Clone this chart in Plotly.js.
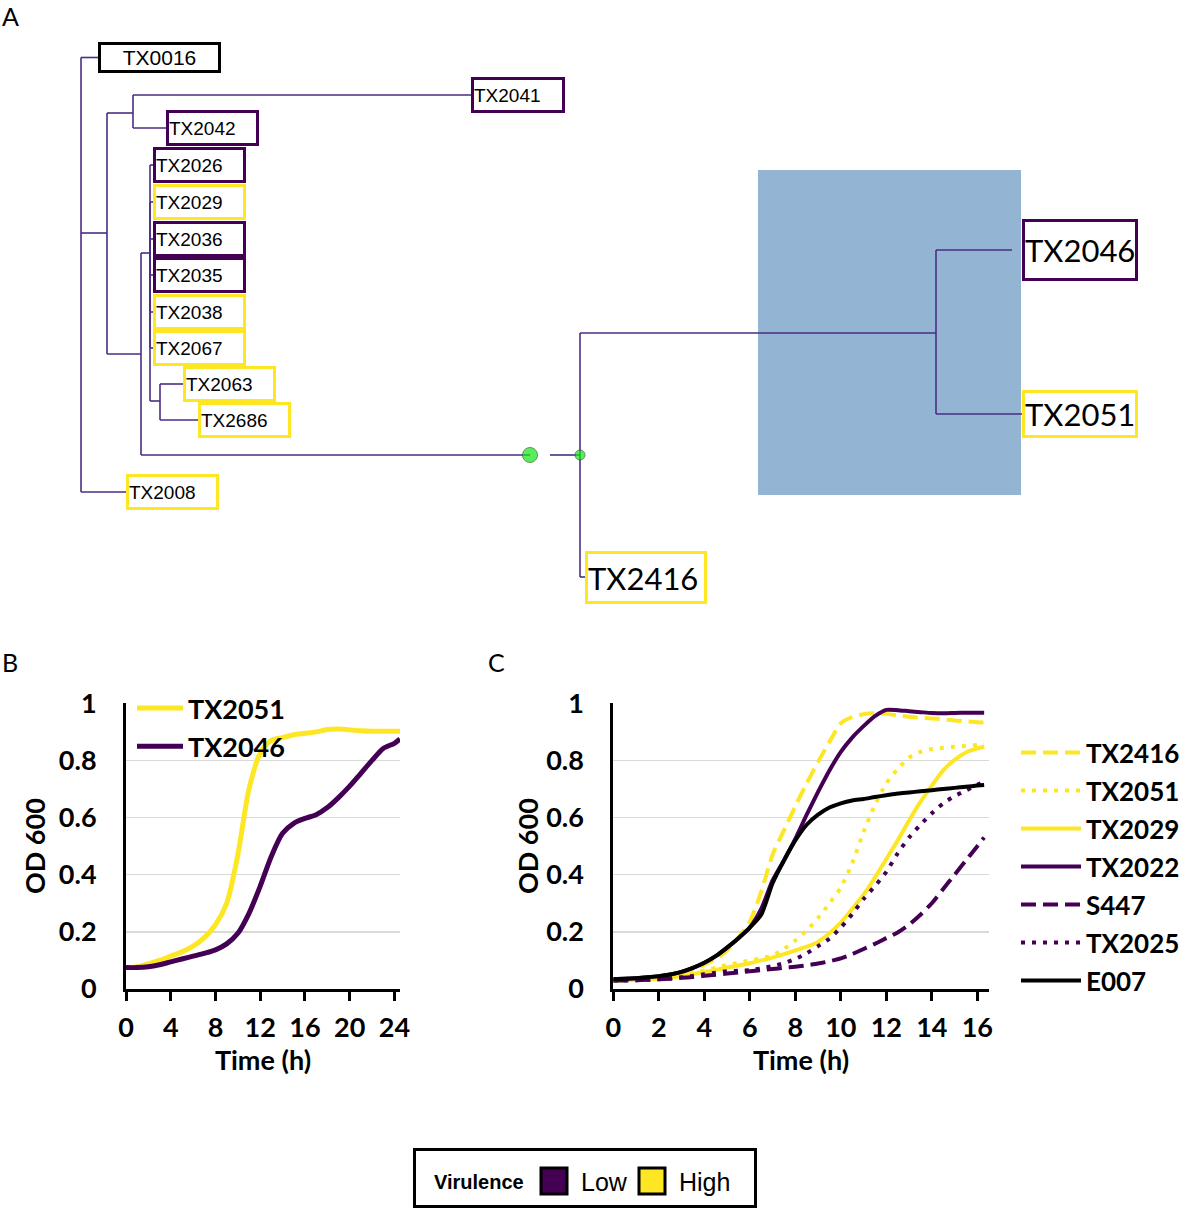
<!DOCTYPE html>
<html><head><meta charset="utf-8">
<script src="https://cdn.plot.ly/plotly-3.0.1.min.js"></script>
<style>html,body{margin:0;padding:0;background:#fff;overflow:hidden}#chart{width:1182px;height:1211px}</style>
</head><body><div id="chart"></div>
<script>
// ---------- Panel B data ----------
const timeB = [0,1,2,3,4,5,6,7,8,9,10,11,12,13,14,15,16,17,18,19,20,21,22,23,24,24.5];
const tx2051B = [0.075,0.078,0.088,0.10,0.115,0.13,0.15,0.18,0.225,0.30,0.47,0.70,0.825,0.87,0.88,0.89,0.895,0.90,0.908,0.91,0.907,0.904,0.902,0.902,0.902,0.902];
const tx2046B = [0.075,0.075,0.078,0.085,0.095,0.105,0.115,0.125,0.137,0.158,0.195,0.265,0.36,0.465,0.545,0.58,0.597,0.61,0.635,0.67,0.71,0.755,0.80,0.842,0.86,0.875];
const namesB = ['TX2051','TX2046'];
const ticksB = [0,4,8,12,16,20,24];

// ---------- Panel C data ----------
const timeC = [0,0.5,1,1.5,2,2.5,3,3.5,4,4.5,5,5.5,6,6.5,7,7.5,8,8.5,9,9.5,10,10.5,11,11.5,12,12.5,13,13.5,14,14.5,15,15.5,16,16.3];
const tx2416C = [0.030,0.031,0.033,0.036,0.040,0.047,0.057,0.070,0.085,0.105,0.135,0.18,0.235,0.34,0.47,0.555,0.64,0.72,0.795,0.865,0.93,0.952,0.962,0.965,0.963,0.958,0.953,0.95,0.947,0.944,0.94,0.937,0.934,0.933];
const tx2051C = [0.030,0.031,0.032,0.034,0.037,0.042,0.048,0.056,0.065,0.074,0.084,0.092,0.10,0.107,0.118,0.14,0.17,0.205,0.248,0.30,0.355,0.44,0.55,0.645,0.72,0.77,0.81,0.83,0.84,0.844,0.848,0.851,0.854,0.855];
const tx2029C = [0.030,0.031,0.032,0.034,0.036,0.04,0.045,0.052,0.06,0.067,0.075,0.082,0.09,0.10,0.11,0.122,0.135,0.148,0.165,0.195,0.232,0.28,0.33,0.39,0.455,0.52,0.59,0.655,0.712,0.765,0.802,0.828,0.842,0.848];
const tx2022C = [0.035,0.036,0.038,0.041,0.045,0.051,0.06,0.074,0.092,0.115,0.145,0.178,0.215,0.28,0.38,0.45,0.525,0.61,0.69,0.765,0.83,0.88,0.92,0.955,0.977,0.976,0.972,0.969,0.966,0.965,0.966,0.967,0.967,0.967];
const s447C   = [0.030,0.030,0.031,0.032,0.034,0.036,0.039,0.042,0.046,0.050,0.054,0.058,0.062,0.066,0.070,0.074,0.078,0.083,0.089,0.097,0.107,0.122,0.14,0.158,0.178,0.198,0.225,0.26,0.30,0.35,0.40,0.45,0.50,0.53];
const tx2025C = [0.030,0.030,0.031,0.032,0.034,0.037,0.041,0.046,0.052,0.057,0.062,0.064,0.066,0.072,0.08,0.09,0.105,0.125,0.15,0.176,0.215,0.262,0.315,0.36,0.41,0.475,0.53,0.575,0.615,0.65,0.675,0.695,0.715,0.725];
const e007C   = [0.035,0.036,0.038,0.041,0.045,0.051,0.06,0.074,0.092,0.115,0.145,0.178,0.215,0.26,0.37,0.45,0.52,0.575,0.61,0.635,0.65,0.66,0.665,0.672,0.678,0.684,0.688,0.692,0.696,0.70,0.704,0.708,0.712,0.714];
const namesC = ['TX2416','TX2051','TX2029','TX2022','S447','TX2025','E007'];
const ticksC = [0,2,4,6,8,10,12,14,16];
const ticksY = [0,0.2,0.4,0.6,0.8,1];

// ---------- Panel A tree data ----------
const nodeIds    = ['R','TX0016','N1','N2','TX2041','TX2042','N3','N4','TX2026','TX2029','TX2036','TX2035','TX2038','TX2067','N5','TX2063','TX2686','N6','N7','N8','TX2046','TX2051','TX2416','TX2008'];
const nodeParent = [null,'R','R','N1','N2','N2','N1','N3','N4','N4','N4','N4','N4','N4','N4','N5','N5','N3','N6','N7','N8','N8','N7','R'];
const nodeX      = [81,98,107,133,471,166,141,150,153,153,153,153,153,153,160,183,198,530,580,936,1012,1022,585,126];
const nodeY      = [233,57.5,233,113,95,128,354,253,165,202,239,275,312,348,401,384,420,455,455,333,250,414,577,492];
const leafVirulence = {TX0016:'Reference',TX2041:'Low',TX2042:'Low',TX2026:'Low',TX2029:'High',TX2036:'Low',TX2035:'Low',TX2038:'High',TX2067:'High',TX2063:'High',TX2686:'High',TX2008:'High',TX2046:'Low',TX2051:'High',TX2416:'High'};
const markedNodes = ['N6','N7'];
const branchBreakStart = {N7:550};
const virulenceKey = ['Low','High'];

// ---------- styles ----------
const COL = {Low:'#440154', High:'#FDE725', Reference:'#000000'};
const treeLine = '#4b2d85';
const axFont = {family:'Lato, "Open Sans", sans-serif', size:27, weight:'bold', color:'#000'};
const boxStyle = {
  def:{w:87,h:30,font:{family:'"Liberation Sans", Arial, sans-serif',size:19,color:'#000'},align:'left'},
  TX0016:{w:117,h:25,font:{family:'"Liberation Sans", Arial, sans-serif',size:21,color:'#000'},align:'center'},
  TX2041:{w:88,h:30},
  TX2046:{w:110,h:56,font:{family:'Lato, sans-serif',size:31,color:'#000'}},
  TX2051:{w:110,h:42,font:{family:'Lato, sans-serif',size:31,color:'#000'}},
  TX2416:{w:116,h:47,font:{family:'Lato, sans-serif',size:31,color:'#000'}}
};
const boxLeft = {TX2046:1022};

// ---------- build traces ----------
const traces = [];
const idx = {}; nodeIds.forEach((id,i)=>idx[id]=i);
const bx=[], by=[];
nodeIds.forEach((id,i)=>{
  const p = nodeParent[i]; if(!p) return;
  const j = idx[p];
  bx.push(nodeX[j], nodeX[j], null); by.push(nodeY[j], nodeY[i], null);
  const sx = branchBreakStart[id] !== undefined ? branchBreakStart[id] : nodeX[j];
  bx.push(sx, nodeX[i], null); by.push(nodeY[i], nodeY[i], null);
});
traces.push({x:bx,y:by,xaxis:'x3',yaxis:'y3',mode:'lines',line:{color:treeLine,width:1.6},showlegend:false,hoverinfo:'skip'});
traces.push({x:markedNodes.map(n=>nodeX[idx[n]]), y:markedNodes.map(n=>nodeY[idx[n]]), xaxis:'x3',yaxis:'y3',mode:'markers',
  marker:{color:'#14e614',size:[15,10],line:{color:'#1d6b1d',width:1}},showlegend:false,hoverinfo:'skip'});

// panel B
const seriesB = [tx2051B, tx2046B];
const colB = [COL.High, COL.Low];
seriesB.forEach((s,k)=>traces.push({x:timeB,y:s,name:namesB[k],mode:'lines',line:{color:colB[k],width:5,shape:'spline',smoothing:0.8},xaxis:'x',yaxis:'y',legend:'legend'}));

// panel C
const seriesC = [tx2416C,tx2051C,tx2029C,tx2022C,s447C,tx2025C,e007C];
const colC = [COL.High,COL.High,COL.High,COL.Low,COL.Low,COL.Low,'#000000'];
const dashC = ['15px,7px','4px,7px','solid','solid','15px,7px','4px,7px','solid'];
seriesC.forEach((s,k)=>traces.push({x:timeC,y:s,name:namesC[k],mode:'lines',line:{color:colC[k],width:4,dash:dashC[k],shape:'spline',smoothing:0.6},xaxis:'x2',yaxis:'y2',legend:'legend2',legendgroup:'c'+k}));

// ---------- annotations / shapes ----------
const ann = [];
const shapes = [];
Object.keys(leafVirulence).forEach(name=>{
  const i = idx[name];
  const st = Object.assign({}, boxStyle.def, boxStyle[name]||{});
  ann.push({xref:'x3',yref:'y3',x:boxLeft[name]!==undefined?boxLeft[name]:nodeX[i],y:nodeY[i],xanchor:'left',yanchor:'middle',
    text:name,showarrow:false,font:st.font,align:st.align,width:st.w,height:st.h,
    bordercolor:COL[leafVirulence[name]],borderwidth:3,borderpad:0,bgcolor:'#fff'});
});
shapes.push({type:'rect',xref:'x3',yref:'y3',x0:758,x1:1021,y0:170,y1:495,fillcolor:'#93b4d3',line:{width:0},layer:'below'});

const letterFont = {family:'Lato, sans-serif',size:25,color:'#000'};
ann.push({xref:'x3',yref:'y3',x:0,y:16,xanchor:'left',yanchor:'middle',text:'A',showarrow:false,font:letterFont});
ann.push({xref:'x3',yref:'y3',x:0,y:662,xanchor:'left',yanchor:'middle',text:'B',showarrow:false,font:letterFont});
ann.push({xref:'x3',yref:'y3',x:486,y:662,xanchor:'left',yanchor:'middle',text:'C',showarrow:false,font:letterFont});

// virulence key
shapes.push({type:'rect',xref:'x3',yref:'y3',x0:414.5,x1:755.5,y0:1149.5,y1:1206.5,fillcolor:'#fff',line:{color:'#000',width:3}});
const keyX = [541,639];
virulenceKey.forEach((v,k)=>{
  shapes.push({type:'rect',xref:'x3',yref:'y3',x0:keyX[k],x1:keyX[k]+26,y0:1168,y1:1194,fillcolor:COL[v],line:{color:'#000',width:3}});
  ann.push({xref:'x3',yref:'y3',x:keyX[k]+38,y:1182,xanchor:'left',yanchor:'middle',text:v,showarrow:false,font:{family:'"Liberation Sans", Arial, sans-serif',size:25,color:'#000'}});
});
ann.push({xref:'x3',yref:'y3',x:432,y:1182,xanchor:'left',yanchor:'middle',text:'Virulence',showarrow:false,font:{family:'"Liberation Sans", Arial, sans-serif',size:20,weight:'bold',color:'#000'}});

// ---------- layout ----------
const H = 1211, W = 1182;
const yDom = [(H-989)/H, (H-703.3)/H];
function xAx(dom, rng, tv){
  return {domain:dom, range:rng, tickvals:tv, ticks:'outside', ticklen:9, tickwidth:3, tickcolor:'#000',
    showline:true, linecolor:'#000', linewidth:3, showgrid:false, zeroline:false, tickfont:axFont,
    ticklabelstandoff:4, fixedrange:true, automargin:false, title:{text:'Time (h)', font:axFont, standoff:6}};
}
function yAx(anchor, titleStandoff){
  return {domain:yDom, range:[0,1], anchor:anchor, tickvals:ticksY, ticks:'', showline:true, linecolor:'#000', linewidth:3,
    showgrid:true, gridcolor:'#d9d9d9', gridwidth:1.5, zeroline:false, tickfont:axFont, ticklabelstandoff:21, fixedrange:true, automargin:false,
    title:{text:'OD 600', font:axFont, standoff:titleStandoff}};
}
const layout = {
  width:W, height:H, margin:{l:0,r:0,t:0,b:0,autoexpand:false}, paper_bgcolor:'#fff', plot_bgcolor:'rgba(0,0,0,0)',
  font:{family:'Lato, sans-serif',color:'#000'},
  xaxis:Object.assign(xAx([126/W,400/W],[0,24.5],ticksB),{anchor:'y'}),
  yaxis:yAx('x',6),
  xaxis2:Object.assign(xAx([613.3/W,988.7/W],[0,16.5],ticksC),{anchor:'y2'}),
  yaxis2:yAx('x2',0),
  xaxis3:{domain:[0,1],range:[0,W],anchor:'y3',visible:false,fixedrange:true},
  yaxis3:{domain:[0,1],range:[H,0],anchor:'x3',visible:false,fixedrange:true},
  legend:{x:132/W,y:1-684/H,xanchor:'left',yanchor:'top',bgcolor:'rgba(0,0,0,0)',font:axFont,itemwidth:46,traceorder:'normal'},
  legend2:{x:1016/W,y:1-729/H,xanchor:'left',yanchor:'top',bgcolor:'rgba(0,0,0,0)',font:Object.assign({},axFont,{size:26}),itemwidth:60,traceorder:'grouped',tracegroupgap:1.2},
  showlegend:true,
  annotations:ann, shapes:shapes
};
Plotly.newPlot('chart', traces, layout, {displayModeBar:false, staticPlot:true});
</script></body></html>
